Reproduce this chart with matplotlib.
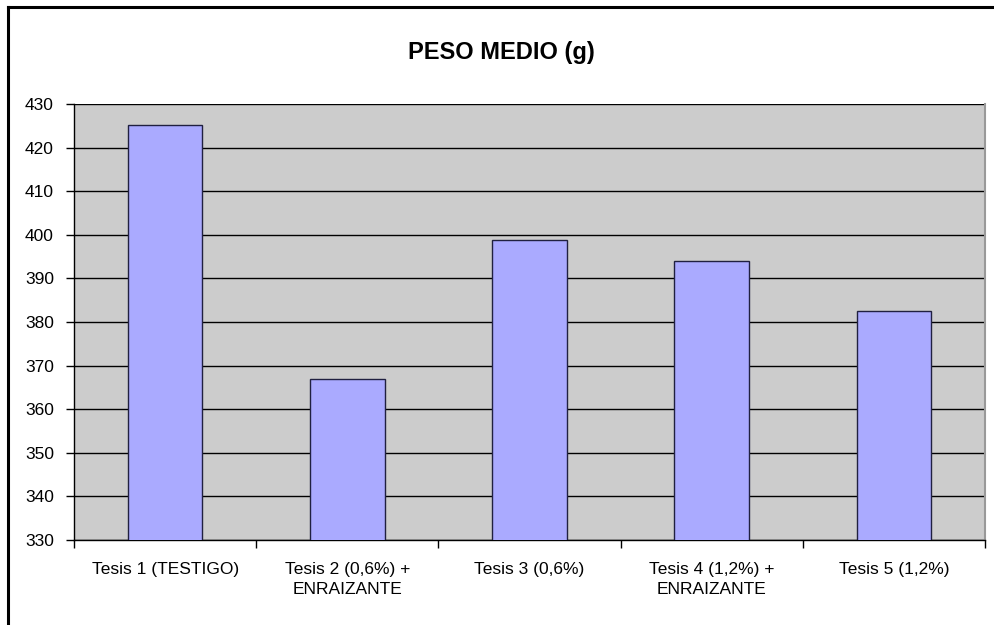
import matplotlib
matplotlib.use("Agg")
import matplotlib.pyplot as plt
from matplotlib.lines import Line2D
import numpy as np

plt.rcParams['font.family'] = ['Liberation Sans', 'DejaVu Sans']

categories = ["Tesis 1 (TESTIGO)", "Tesis 2 (0,6%) +\nENRAIZANTE", "Tesis 3 (0,6%)",
              "Tesis 4 (1,2%) +\nENRAIZANTE", "Tesis 5 (1,2%)"]
values = [425.2, 367.0, 398.9, 394.0, 382.5]
yticks = list(range(330, 431, 10))
title = "PESO MEDIO (g)"

W, H = 994, 625
fig = plt.figure(figsize=(W / 100, H / 100), dpi=100)
fig.patch.set_facecolor('white')

left, right, top, bottom = 74, 985, 104, 540
ax = fig.add_axes([left / W, 1 - bottom / H, (right - left) / W, (bottom - top) / H])
ax.set_facecolor('#CCCCCC')

x = np.arange(len(categories))
ax.bar(x, values, width=0.41, color='#AAAAFF', edgecolor='#202040', linewidth=1.0, zorder=3)
ax.set_ylim(330, 430)
ax.set_xlim(-0.5, len(categories) - 0.5)
ax.set_yticks(yticks)
ax.yaxis.grid(True, color='black', linewidth=1.0, zorder=1)
ax.set_axisbelow(True)

ax.set_xticks(x)
ax.set_xticklabels(categories, fontsize=12.5, linespacing=1.4)
ax.tick_params(axis='x', length=0, pad=16)
ax.set_xticks(np.arange(-0.5, len(categories) + 0.5, 1), minor=True)
ax.tick_params(axis='x', which='minor', length=6, width=1, color='black', direction='out')
ax.tick_params(axis='y', length=6, width=1, color='black', direction='out', labelsize=12.5, pad=8.5)

for s in ['left', 'bottom']:
    ax.spines[s].set_color('black')
    ax.spines[s].set_linewidth(1.0)
ax.spines['top'].set_visible(False)
ax.spines['right'].set_color('#999999')
ax.spines['right'].set_linewidth(1.5)

fig.text(501 / W, 1 - 52 / H, title, ha='center', va='center', fontsize=17, fontweight='bold')

# outer chart border (top and left visible)
fig.add_artist(Line2D([8 / W, 1.0], [1 - 7 / H, 1 - 7 / H], color='black', linewidth=2.2, transform=fig.transFigure))
fig.add_artist(Line2D([8 / W, 8 / W], [0.0, 1 - 7 / H], color='black', linewidth=2.2, transform=fig.transFigure))

fig.savefig('out.png', dpi=100)
